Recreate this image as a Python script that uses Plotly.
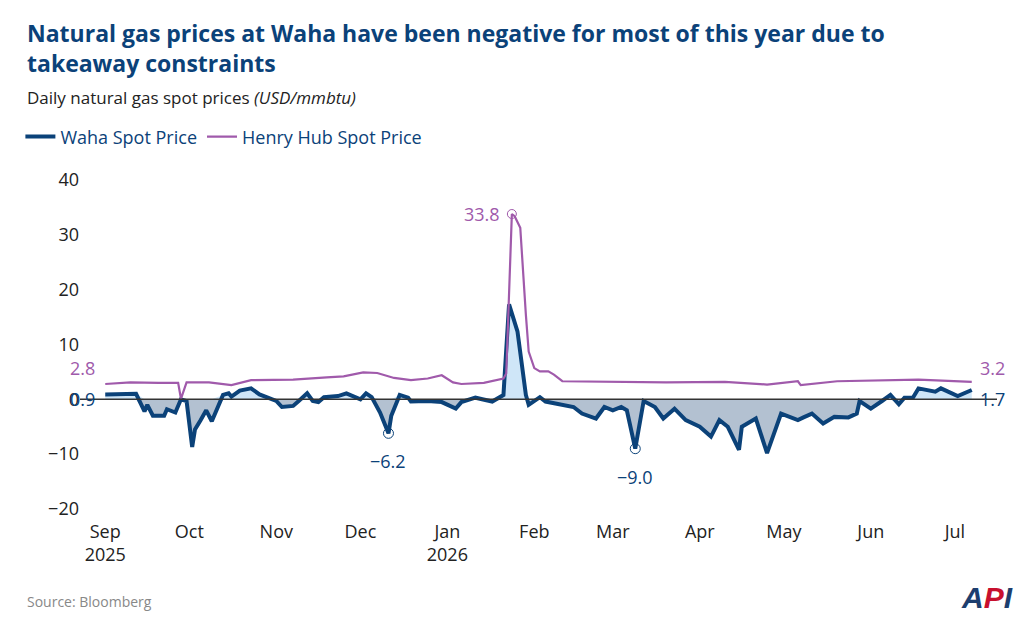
import numpy as np
import plotly.graph_objects as go

# Waha daily spot (USD/mmbtu)
waha_dates = ["2025-09-01", "2025-09-12", "2025-09-15", "2025-09-16", "2025-09-18", "2025-09-22",
              "2025-09-23", "2025-09-26", "2025-09-28", "2025-09-30", "2025-10-02", "2025-10-03",
              "2025-10-05", "2025-10-07", "2025-10-09", "2025-10-13", "2025-10-15", "2025-10-16",
              "2025-10-19", "2025-10-23", "2025-10-26", "2025-10-29", "2025-11-01", "2025-11-03",
              "2025-11-07", "2025-11-09", "2025-11-12", "2025-11-14", "2025-11-16", "2025-11-18",
              "2025-11-23", "2025-11-26", "2025-11-28", "2025-12-01", "2025-12-03", "2025-12-05",
              "2025-12-08", "2025-12-11", "2025-12-12", "2025-12-15", "2025-12-18", "2025-12-19",
              "2025-12-25", "2025-12-30", "2026-01-04", "2026-01-06", "2026-01-11", "2026-01-17",
              "2026-01-21", "2026-01-23", "2026-01-26", "2026-01-27", "2026-01-29", "2026-01-30",
              "2026-02-03", "2026-02-05", "2026-02-11", "2026-02-15", "2026-02-18", "2026-02-23",
              "2026-02-26", "2026-03-01", "2026-03-04", "2026-03-06", "2026-03-09", "2026-03-12",
              "2026-03-16", "2026-03-19", "2026-03-23", "2026-03-27", "2026-04-01", "2026-04-05",
              "2026-04-08", "2026-04-11", "2026-04-15", "2026-04-16", "2026-04-21", "2026-04-25",
              "2026-04-30", "2026-05-06", "2026-05-08", "2026-05-11", "2026-05-15", "2026-05-19",
              "2026-05-24", "2026-05-27", "2026-05-28", "2026-06-01", "2026-06-05", "2026-06-08",
              "2026-06-11", "2026-06-13", "2026-06-16", "2026-06-18", "2026-06-24", "2026-06-26",
              "2026-07-02", "2026-07-07"]
waha_price = [0.9, 1.0, -2.2, -1.0, -3.0, -3.0,
              -1.8, -2.4, 0.0, -0.3, -8.7, -5.5,
              -3.8, -2.0, -4.0, 0.8, 1.1, 0.5,
              1.6, 2.0, 0.9, 0.3, -0.3, -1.4,
              -1.2, -0.3, 1.1, -0.3, -0.5, 0.4,
              0.6, 1.1, 0.6, 0.0, 1.1, 0.4,
              -2.4, -6.2, -3.0, 0.8, 0.3, -0.4,
              -0.3, -0.5, -1.7, -0.5, 0.3, -0.4,
              0.8, 17.3, 12.4, 8.2, 0.8, -1.0,
              0.4, -0.4, -0.9, -1.4, -2.6, -3.5,
              -1.4, -2.0, -1.4, -2.0, -9.0, -0.3,
              -1.4, -3.5, -1.7, -3.8, -5.0, -6.8,
              -3.8, -5.0, -9.2, -5.0, -3.5, -9.8,
              -2.6, -3.8, -3.3, -2.6, -4.4, -3.2,
              -3.3, -2.6, -0.3, -1.7, -0.3, 0.8,
              -0.9, 0.3, 0.3, 2.0, 1.4, 2.0,
              0.6, 1.7]

# Henry Hub daily spot
hh_dates = ["2025-09-01", "2025-09-10", "2025-09-20", "2025-09-27", "2025-09-28", "2025-09-30",
            "2025-10-08", "2025-10-16", "2025-10-23", "2025-11-07", "2025-11-19", "2025-11-25",
            "2025-12-02", "2025-12-07", "2025-12-13", "2025-12-19", "2025-12-25", "2025-12-30",
            "2026-01-03", "2026-01-06", "2026-01-14", "2026-01-21", "2026-01-22", "2026-01-24",
            "2026-01-25", "2026-01-27", "2026-01-29", "2026-01-30", "2026-02-01", "2026-02-03",
            "2026-02-06", "2026-02-08", "2026-02-11", "2026-03-01", "2026-03-20", "2026-04-10",
            "2026-04-25", "2026-05-06", "2026-05-07", "2026-05-20", "2026-06-10", "2026-06-18",
            "2026-07-07"]
hh_price = [2.8, 3.1, 3.0, 3.0, 0.1, 3.1,
            3.1, 2.6, 3.5, 3.6, 4.0, 4.2,
            4.9, 4.8, 3.9, 3.5, 3.8, 4.4,
            3.1, 2.8, 3.0, 3.8, 4.7, 33.8,
            33.4, 31.3, 15.4, 8.7, 5.7, 5.1,
            5.1, 4.5, 3.3, 3.2, 3.1, 3.2,
            2.7, 3.3, 2.6, 3.3, 3.5, 3.6,
            3.2]

month_ticks = ["2025-09-01", "2025-10-01", "2025-11-01", "2025-12-01", "2026-01-01", "2026-02-01",
               "2026-03-01", "2026-04-01", "2026-05-01", "2026-06-01", "2026-07-01"]
month_labels = ["Sep<br>2025", "Oct", "Nov", "Dec", "Jan<br>2026", "Feb", "Mar", "Apr", "May", "Jun", "Jul"]

NAVY = "#0b4279"
PURPLE = "#a05aab"
FONT = "Open Sans"

w = np.array(waha_price)
fig = go.Figure()

# shaded areas between Waha and zero
fig.add_trace(go.Scatter(x=waha_dates, y=[0] * len(w), mode="lines", line=dict(width=0),
                         showlegend=False, hoverinfo="skip"))
fig.add_trace(go.Scatter(x=waha_dates, y=np.maximum(w, 0), mode="lines", line=dict(width=0),
                         fill="tonexty", fillcolor="#cfe6f8", showlegend=False, hoverinfo="skip"))
fig.add_trace(go.Scatter(x=waha_dates, y=[0] * len(w), mode="lines", line=dict(width=0),
                         showlegend=False, hoverinfo="skip"))
fig.add_trace(go.Scatter(x=waha_dates, y=np.minimum(w, 0), mode="lines", line=dict(width=0),
                         fill="tonexty", fillcolor="#b3c1d1", showlegend=False, hoverinfo="skip"))

fig.add_hline(y=0, line=dict(color="#333333", width=1.5))

fig.add_trace(go.Scatter(x=waha_dates, y=waha_price, mode="lines", name="Waha Spot Price",
                         line=dict(color=NAVY, width=4)))
fig.add_trace(go.Scatter(x=hh_dates, y=hh_price, mode="lines", name="Henry Hub Spot Price",
                         line=dict(color=PURPLE, width=2.2)))

# highlighted extremes
fig.add_trace(go.Scatter(x=["2026-01-24"], y=[33.8], mode="markers", showlegend=False,
                         marker=dict(symbol="circle-open", size=9, color=PURPLE, line=dict(width=1))))
fig.add_trace(go.Scatter(x=["2025-12-11", "2026-03-09"], y=[-6.2, -9.0], mode="markers", showlegend=False,
                         marker=dict(symbol="circle-open", size=10, color=NAVY, line=dict(width=1))))

labels = [
    ("2026-01-24", 33.8, "33.8", PURPLE, "right", "middle", -10, 0),
    ("2025-12-11", -6.2, "−6.2", NAVY, "center", "top", 0, -14),
    ("2026-03-09", -9.0, "−9.0", NAVY, "center", "top", 0, -14),
    ("2025-09-01", 2.8, "2.8", PURPLE, "right", "bottom", -8, 2),
    ("2025-09-01", 0, "0.9", NAVY, "right", "middle", -8, 0),
    ("2026-07-07", 3.2, "3.2", PURPLE, "left", "bottom", 6, 0),
    ("2026-07-07", 0, "1.7", NAVY, "left", "middle", 6, 0),
]
for x, y, t, c, xa, ya, dx, dy in labels:
    fig.add_annotation(x=x, y=y, text=t, showarrow=False, xanchor=xa, yanchor=ya,
                       xshift=dx, yshift=dy, font=dict(color=c, size=18, family=FONT))

# title block
fig.add_annotation(xref="paper", yref="paper", x=-0.06, y=1.40, xanchor="left", yanchor="middle",
                   showarrow=False, align="left",
                   text="<b>Natural gas prices at Waha have been negative for most of this year due to<br>takeaway constraints</b>",
                   font=dict(size=23, color=NAVY, family=FONT))
fig.add_annotation(xref="paper", yref="paper", x=-0.06, y=1.25, xanchor="left", yanchor="middle",
                   showarrow=False, text="Daily natural gas spot prices <i>(USD/mmbtu)</i>",
                   font=dict(size=17, color="#222222", family=FONT))

fig.add_annotation(xref="paper", yref="paper", x=-0.06, y=-0.317, text="Source: Bloomberg",
                   showarrow=False, xanchor="left", font=dict(color="#888888", size=14, family=FONT))
fig.add_annotation(xref="paper", yref="paper", x=1.02, y=-0.325, showarrow=False, xanchor="right",
                   text="<b><i>A<span style='color:#c8102e'>P</span>I</i></b>",
                   font=dict(color="#1d3e6e", size=30, family="Liberation Sans"))

fig.update_layout(
    width=1024, height=638,
    margin=dict(l=70, r=35, t=172, b=137),
    paper_bgcolor="white", plot_bgcolor="white",
    font=dict(family=FONT, color="#222222"),
    legend=dict(orientation="h", x=-0.065, y=1.131, xanchor="left", yanchor="middle",
                traceorder="normal", font=dict(size=18, color=NAVY), itemwidth=30),
    xaxis=dict(type="date", range=["2025-08-23", "2026-07-16"], tickvals=month_ticks,
               ticktext=month_labels, showgrid=False, zeroline=False, showline=False,
               tickfont=dict(size=18), ticks="", ticklabelstandoff=10),
    yaxis=dict(range=[-20, 40], dtick=10, showgrid=False, zeroline=False,
               tickfont=dict(size=18), ticks="", tickformat="d"),
)

fig.write_html("out.html")
